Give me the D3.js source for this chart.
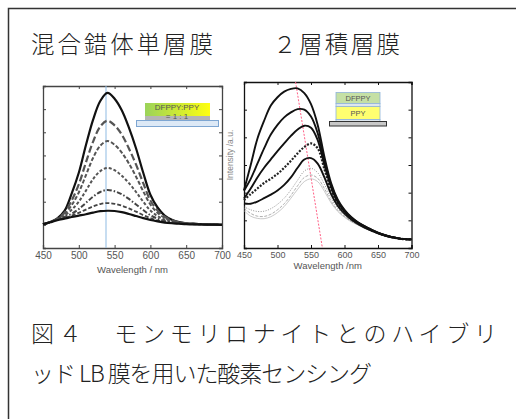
<!DOCTYPE html>
<html>
<head>
<meta charset="utf-8">
<script src="https://cdn.jsdelivr.net/npm/d3@7"></script>
<style>
  body { margin: 0; background: #fff; }
  svg { display: block; }
</style>
</head>
<body>
<div id="chart"></div>
<script>
// wavelengths (nm), shared by every curve
var wavelengths = [450,460,470,480,490,500,510,520,530,540,550,560,570,580,590,600,610,620,630,640,650,660,670,680,690,700];
var xTicks = [450, 500, 550, 600, 650, 700];

// 混合錯体単層膜 (DFPPY:PPY = 1:1), top to bottom
var mixA = [1.02,1.12,1.28,1.60,2.35,3.25,4.45,5.55,6.35,6.70,6.45,5.95,5.20,4.30,3.25,2.30,1.75,1.40,1.22,1.12,1.07,1.05,1.03,1.02,1.01,1.00];
var mixB = [1.02,1.12,1.27,1.52,2.05,2.75,3.70,4.60,5.25,5.50,5.30,4.90,4.30,3.60,2.80,2.05,1.62,1.35,1.20,1.11,1.07,1.05,1.03,1.02,1.01,1.00];
var mixC = [1.02,1.12,1.26,1.46,1.85,2.40,3.15,3.90,4.42,4.62,4.46,4.12,3.65,3.08,2.45,1.88,1.52,1.30,1.18,1.10,1.06,1.04,1.03,1.02,1.01,1.00];
var mixD = [1.02,1.12,1.25,1.40,1.65,2.00,2.48,2.98,3.32,3.46,3.36,3.12,2.80,2.42,2.00,1.62,1.38,1.23,1.14,1.08,1.05,1.04,1.03,1.02,1.01,1.00];
var mixE = [1.02,1.12,1.24,1.34,1.48,1.68,1.95,2.22,2.42,2.51,2.45,2.32,2.12,1.88,1.64,1.42,1.27,1.17,1.11,1.07,1.05,1.03,1.02,1.02,1.01,1.00];
var mixF = [1.02,1.12,1.22,1.30,1.40,1.52,1.66,1.80,1.90,1.94,1.91,1.83,1.71,1.57,1.42,1.29,1.19,1.13,1.09,1.06,1.04,1.03,1.02,1.01,1.01,1.00];
var mixG = [1.02,1.11,1.20,1.27,1.34,1.40,1.46,1.53,1.59,1.61,1.60,1.55,1.47,1.38,1.29,1.21,1.15,1.10,1.07,1.05,1.03,1.02,1.02,1.01,1.01,1.00];

// ２層積層膜 (DFPPY / PPY), top to bottom
var bilA = [2.09,3.00,3.95,4.60,5.15,5.45,5.65,5.75,5.77,5.60,5.20,4.45,3.30,2.35,1.75,1.38,1.12,0.93,0.79,0.67,0.56,0.47,0.40,0.35,0.32,0.31];
var bilB = [2.07,2.50,3.05,3.60,4.10,4.45,4.72,4.90,5.02,5.00,4.75,4.15,3.15,2.28,1.70,1.35,1.10,0.92,0.78,0.66,0.55,0.46,0.40,0.35,0.32,0.31];
var bilC = [1.79,2.15,2.55,2.90,3.20,3.50,3.78,4.05,4.28,4.42,4.35,3.90,3.00,2.20,1.65,1.32,1.08,0.91,0.77,0.65,0.55,0.46,0.40,0.35,0.32,0.31];
var bilD = [1.73,1.95,2.15,2.35,2.50,2.68,2.90,3.15,3.42,3.65,3.78,3.60,2.85,2.10,1.60,1.28,1.06,0.89,0.76,0.64,0.54,0.46,0.39,0.35,0.32,0.31];
var bilE = [1.61,1.60,1.68,1.80,1.93,2.08,2.28,2.55,2.90,3.20,3.25,3.05,2.55,1.95,1.52,1.24,1.03,0.87,0.74,0.63,0.53,0.45,0.39,0.35,0.32,0.31];
var bilF = [1.49,1.38,1.32,1.33,1.42,1.58,1.80,2.10,2.45,2.78,2.88,2.72,2.30,1.80,1.43,1.18,0.99,0.85,0.73,0.62,0.53,0.45,0.39,0.35,0.32,0.31];
var bilG = [1.43,1.25,1.15,1.14,1.22,1.38,1.60,1.90,2.25,2.55,2.64,2.52,2.15,1.70,1.36,1.14,0.97,0.84,0.72,0.62,0.53,0.45,0.39,0.35,0.32,0.31];
var bilH = [1.35,1.15,1.07,1.06,1.13,1.28,1.50,1.80,2.12,2.40,2.50,2.40,2.05,1.63,1.32,1.11,0.95,0.83,0.71,0.61,0.52,0.45,0.39,0.35,0.32,0.31];

// peak guide lines (nm, intensity)
var mixPeakLine = [[538, 0], [538, 7]];
var bilPeakLine = [[527, 6], [567, 0]];

var svg = d3.select('#chart').append('svg')
  .attr('width', 516)
  .attr('height', 419);

// outer frame (runs off the right and bottom edge)
svg.append('path')
  .attr('d', 'M530,8.5 H8.5 V430')
  .attr('fill', 'none')
  .attr('stroke', '#333')
  .attr('stroke-width', 1.5);

var jp = '"Noto Sans CJK JP", sans-serif';

svg.append('text')
  .attr('x', 31).attr('y', 53)
  .attr('font-family', jp).attr('font-size', 23.5).attr('font-weight', 300)
  .attr('textLength', 182).attr('lengthAdjust', 'spacing')
  .attr('fill', '#222')
  .text('混合錯体単層膜');

svg.append('text')
  .attr('x', 273).attr('y', 53)
  .attr('font-family', jp).attr('font-size', 23.5).attr('font-weight', 300)
  .attr('textLength', 127).attr('lengthAdjust', 'spacing')
  .attr('fill', '#222')
  .text('２層積層膜');

svg.append('text')
  .attr('x', 31).attr('y', 341.5)
  .attr('font-family', jp).attr('font-size', 23).attr('font-weight', 300)
  .attr('textLength', 466).attr('lengthAdjust', 'spacing')
  .attr('fill', '#222')
  .text('図４　モンモリロナイトとのハイブリ');

svg.append('text')
  .attr('x', 31).attr('y', 381.5)
  .attr('font-family', jp).attr('font-size', 23).attr('font-weight', 300)
  .attr('textLength', 341).attr('lengthAdjust', 'spacing')
  .attr('fill', '#222')
  .text('ッド LB 膜を用いた酸素センシング');

// one spectrum panel
function drawPanel (opt) {
  var w = opt.x1 - opt.x0;
  var h = opt.y1 - opt.y0;

  var xScale = d3.scaleLinear().domain([450, 700]).range([0, w]);
  var yScale = d3.scaleLinear().domain([0, opt.yMax]).range([h, 0]);

  var g = svg.append('g')
    .attr('transform', 'translate(' + opt.x0 + ',' + opt.y0 + ')');

  var yTicks = d3.range(0, opt.yMax + 1);

  // bottom axis with labels
  var xAxis = g.append('g')
    .attr('transform', 'translate(0,' + h + ')')
    .call(d3.axisBottom(xScale).tickValues(xTicks).tickSize(-3).tickPadding(4));
  xAxis.selectAll('text')
    .attr('font-family', 'Liberation Sans, Arial, sans-serif')
    .attr('font-size', opt.tickFont)
    .attr('fill', '#555');

  g.append('g')
    .call(d3.axisTop(xScale).tickValues(xTicks).tickSize(-3).tickFormat(''));
  g.append('g')
    .call(d3.axisLeft(yScale).tickValues(yTicks).tickSize(-3).tickFormat(''));
  g.append('g')
    .attr('transform', 'translate(' + w + ',0)')
    .call(d3.axisRight(yScale).tickValues(yTicks).tickSize(-3).tickFormat(''));

  g.selectAll('.domain').attr('stroke', opt.frame).attr('stroke-width', 1.3);
  g.selectAll('.tick line').attr('stroke', opt.frame);

  var line = d3.line()
    .x((d, i) => xScale(wavelengths[i]))
    .y((d) => yScale(d))
    .curve(d3.curveCatmullRom);

  // guide line
  g.append('path')
    .attr('d', d3.line().x((d) => xScale(d[0])).y((d) => yScale(d[1]))(opt.guide))
    .attr('fill', 'none')
    .attr('stroke', opt.guideColor)
    .attr('stroke-width', 1)
    .attr('stroke-dasharray', opt.guideDash);

  g.selectAll('.curve')
    .data(opt.series)
    .enter()
    .append('path')
    .attr('class', 'curve')
    .attr('d', (d) => line(d.values))
    .attr('fill', 'none')
    .attr('stroke', (d) => d.color)
    .attr('stroke-width', (d) => d.width)
    .attr('stroke-dasharray', (d) => d.dash)
    .attr('stroke-linejoin', 'round');

  g.append('text')
    .attr('x', w / 2)
    .attr('y', h + opt.labelDy)
    .attr('text-anchor', 'middle')
    .attr('font-family', 'Liberation Sans, Arial, sans-serif')
    .attr('font-size', 9.5)
    .attr('fill', '#555')
    .text(opt.label);

  return g;
}

drawPanel({
  x0: 43, x1: 222, y0: 86, y1: 248, yMax: 7,
  frame: '#444', tickFont: 10,
  guide: mixPeakLine, guideColor: '#8fbbe3', guideDash: null,
  label: 'Wavelength / nm', labelDy: 25,
  series: [
    { values: mixA, color: '#111', width: 2.2, dash: null },
    { values: mixB, color: '#555', width: 2.2, dash: '7,3' },
    { values: mixC, color: '#555', width: 2, dash: '4,2' },
    { values: mixD, color: '#555', width: 2, dash: '3,2' },
    { values: mixE, color: '#444', width: 2, dash: '5,2,1.5,2' },
    { values: mixF, color: '#444', width: 1.8, dash: '4,2' },
    { values: mixG, color: '#111', width: 2.2, dash: null }
  ]
});

drawPanel({
  x0: 244, x1: 411.5, y0: 82, y1: 248, yMax: 6,
  frame: '#111', tickFont: 9,
  guide: bilPeakLine, guideColor: '#ff5f85', guideDash: '2,1.5',
  label: 'Wavelength /nm', labelDy: 21,
  series: [
    { values: bilH, color: '#bbb', width: 0.8, dash: null },
    { values: bilG, color: '#999', width: 0.8, dash: '3,1.5' },
    { values: bilF, color: '#777', width: 0.8, dash: '1,1.5' },
    { values: bilE, color: '#111', width: 1.9, dash: null },
    { values: bilD, color: '#222', width: 2.2, dash: '2,1.5' },
    { values: bilC, color: '#111', width: 1.9, dash: null },
    { values: bilB, color: '#111', width: 1.9, dash: null },
    { values: bilA, color: '#111', width: 1.9, dash: null }
  ]
});

// y label of the right panel
svg.append('text')
  .attr('transform', 'translate(233,155) rotate(-90)')
  .attr('text-anchor', 'middle')
  .attr('font-family', 'Liberation Sans, Arial, sans-serif')
  .attr('font-size', 8.5)
  .attr('fill', '#888')
  .text('Intensity /a.u.');

// film sketch, left: mixed layer on substrate
var grad = svg.append('defs').append('linearGradient')
  .attr('id', 'mixGrad')
  .attr('x1', '0%').attr('x2', '100%');
grad.append('stop').attr('offset', '0%').attr('stop-color', '#9bd35a');
grad.append('stop').attr('offset', '100%').attr('stop-color', '#ffff10');

svg.append('rect')
  .attr('x', 145).attr('y', 103).attr('width', 65).attr('height', 13)
  .attr('fill', 'url(#mixGrad)');
svg.append('rect')
  .attr('x', 145).attr('y', 116).attr('width', 65).attr('height', 4)
  .attr('fill', '#b5b5b5');
svg.append('rect')
  .attr('x', 136.5).attr('y', 120.5).attr('width', 82).attr('height', 6)
  .attr('fill', '#dde9f6').attr('stroke', '#7ea6d2').attr('stroke-width', 1);
svg.append('text')
  .attr('x', 177).attr('y', 110)
  .attr('text-anchor', 'middle')
  .attr('font-family', 'Liberation Sans, Arial, sans-serif')
  .attr('font-size', 8).attr('fill', '#555')
  .text('DFPPY:PPY');
svg.append('text')
  .attr('x', 177).attr('y', 118.5)
  .attr('text-anchor', 'middle')
  .attr('font-family', 'Liberation Sans, Arial, sans-serif')
  .attr('font-size', 8).attr('fill', '#555')
  .text('= 1 : 1');

// film sketch, right: DFPPY on PPY on substrate
svg.append('rect')
  .attr('x', 336).attr('y', 92.5).attr('width', 44).attr('height', 11)
  .attr('fill', '#c5e0a5').attr('stroke', '#8fb4d9').attr('stroke-width', 0.8);
svg.append('rect')
  .attr('x', 336).attr('y', 103.5).attr('width', 44).attr('height', 3)
  .attr('fill', '#dde6ee').attr('stroke', '#8fb4d9').attr('stroke-width', 0.8);
svg.append('rect')
  .attr('x', 336).attr('y', 106.5).attr('width', 44).attr('height', 13)
  .attr('fill', '#ffff70').attr('stroke', '#8fb4d9').attr('stroke-width', 0.8);
svg.append('rect')
  .attr('x', 336).attr('y', 119.5).attr('width', 44).attr('height', 2)
  .attr('fill', '#dde6ee').attr('stroke', '#8fb4d9').attr('stroke-width', 0.8);
svg.append('rect')
  .attr('x', 329.5).attr('y', 121.5).attr('width', 57).attr('height', 4.5)
  .attr('fill', '#c8c8c8').attr('stroke', '#333').attr('stroke-width', 1);
svg.append('text')
  .attr('x', 358).attr('y', 100.5)
  .attr('text-anchor', 'middle')
  .attr('font-family', 'Liberation Sans, Arial, sans-serif')
  .attr('font-size', 7.5).attr('fill', '#555')
  .text('DFPPY');
svg.append('text')
  .attr('x', 358).attr('y', 115.5)
  .attr('text-anchor', 'middle')
  .attr('font-family', 'Liberation Sans, Arial, sans-serif')
  .attr('font-size', 7.5).attr('fill', '#555')
  .text('PPY');
</script>
</body>
</html>
